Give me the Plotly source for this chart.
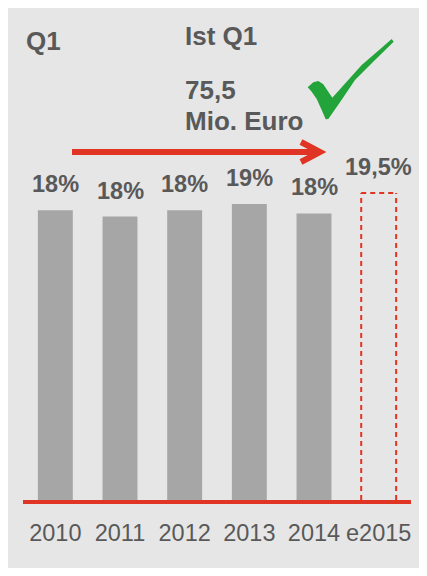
import plotly.graph_objects as go

# ---- data ----
years = ["2010", "2011", "2012", "2013", "2014", "e2015"]
shares = [18.4, 18.0, 18.4, 18.8, 18.2, 19.5]
share_labels = ["18%", "18%", "18%", "19%", "18%", "19,5%"]
is_forecast = [False, False, False, False, False, True]

title_left = "Q1"
title_mid = "Ist Q1"
value_text = "75,5"
unit_text = "Mio. Euro"

# page is 427x576; the html body keeps an 8px margin on every side
OFF = 8
W, H = 427 - 2 * OFF, 576 - 2 * OFF
FONT = "Liberation Sans, Arial, sans-serif"
GREY_TXT = "#595959"
BAR = "#A6A6A6"
RED = "#E03424"
GREEN = "#22A43A"
BG = "#E6E6E6"


def px(x):
    return (x - OFF) / W


def py(y):
    return (H - (y - OFF)) / H


bar_colors = ["rgba(0,0,0,0)" if f else BAR for f in is_forecast]
BAR_W = 0.54

fig = go.Figure()
fig.add_trace(go.Bar(x=years, y=shares, width=BAR_W, marker=dict(color=bar_colors, line=dict(width=0)),
                     hoverinfo="x+y", showlegend=False))

shapes = []
# dashed outline (sides + top) for forecast bar(s)
dash_line = dict(color=RED, width=2, dash="5px,4px")
for i, (v, f) in enumerate(zip(shares, is_forecast)):
    if f:
        xl, xr = i - BAR_W / 2, i + BAR_W / 2
        shapes.append(dict(type="line", xref="x", yref="y", x0=xl, x1=xl, y0=0, y1=v, line=dash_line))
        shapes.append(dict(type="line", xref="x", yref="y", x0=xl, x1=xr, y0=v, y1=v, line=dash_line))
        shapes.append(dict(type="line", xref="x", yref="y", x0=xr, x1=xr, y0=0, y1=v, line=dash_line))

# red arrow
shapes.append(dict(type="line", xref="paper", yref="paper", x0=px(72), x1=px(318), y0=py(152), y1=py(152),
                   line=dict(color=RED, width=6)))
shapes.append(dict(type="path", xref="paper", yref="paper",
                   path=f"M {px(301)},{py(142)} L {px(320)},{py(152)} L {px(301)},{py(162)}",
                   line=dict(color=RED, width=6), fillcolor="rgba(0,0,0,0)"))

# green check mark
check_pts = [(307.7, 87.3), (313.3, 82.3), (318.3, 81), (323.3, 84.3), (328.3, 91.7), (332.3, 97.7),
             (361.7, 65), (381.7, 47.7), (391.7, 39), (393.7, 41.7), (375, 60), (355, 80), (340, 102.3),
             (328.3, 119), (325.7, 119.3), (321.7, 110), (316.7, 99), (311.7, 91.7)]
path = "M " + " L ".join(f"{px(x)},{py(y)}" for x, y in check_pts) + " Z"
shapes.append(dict(type="path", xref="paper", yref="paper", path=path, fillcolor=GREEN, line=dict(width=0)))

annotations = []
for i, (v, t) in enumerate(zip(shares, share_labels)):
    annotations.append(dict(x=i, y=v, xref="x", yref="y", text=t, showarrow=False, yanchor="middle",
                            yshift=26, font=dict(family=FONT, size=23.5, color=GREY_TXT, weight="bold")))

for txt, x, y in [(title_left, 24, 41), (title_mid, 183, 36), (value_text, 183, 90), (unit_text, 183, 121)]:
    annotations.append(dict(x=px(x), y=py(y), xref="paper", yref="paper", text=txt, showarrow=False,
                            xanchor="left", yanchor="middle",
                            font=dict(family=FONT, size=26, color=GREY_TXT, weight="bold")))

fig.update_layout(
    width=W, height=H,
    margin=dict(l=0, r=0, t=0, b=0),
    paper_bgcolor=BG, plot_bgcolor="rgba(0,0,0,0)",
    shapes=shapes, annotations=annotations,
    xaxis=dict(type="category", domain=[px(23), px(411)], range=[-0.5, 5.5],
               showline=True, linecolor=RED, linewidth=4, showgrid=False, zeroline=False,
               ticks="outside", ticklen=9, tickcolor="rgba(0,0,0,0)",
               tickfont=dict(family=FONT, size=23.5, color=GREY_TXT)),
    yaxis=dict(domain=[py(500), py(185.1)], range=[0, 20], visible=False, showgrid=False, zeroline=False),
)

fig.write_html("out.html")
